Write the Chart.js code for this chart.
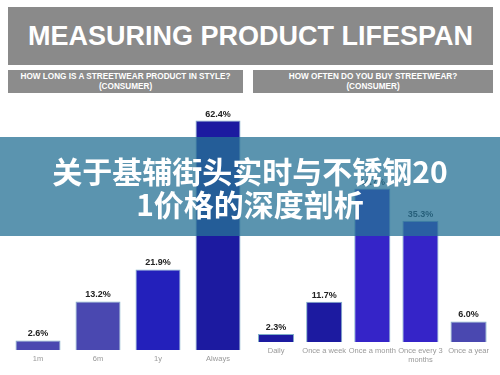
<!DOCTYPE html>
<html><head><meta charset="utf-8">
<script src="https://cdn.jsdelivr.net/npm/chart.js@4"></script>
<style>
html,body{margin:0;padding:0;background:#fff;width:500px;height:375px;overflow:hidden;font-family:"Liberation Sans",Arial,sans-serif;}
#title{position:absolute;left:8px;top:7px;width:485px;height:58px;background:#8a8a8a;color:#fff;font-weight:bold;font-size:27px;line-height:58px;text-align:center;}
.sub{position:absolute;top:70px;height:23px;background:#8c8c8c;color:#fff;font-weight:bold;font-size:8.2px;line-height:9.5px;text-align:center;display:flex;align-items:center;justify-content:center;}
#s1{left:8px;width:235px;}
#s2{left:253px;width:240px;}
#c1wrap{position:absolute;left:8px;top:100px;width:240px;height:275px;}
#c2wrap{position:absolute;left:252px;top:100px;width:241px;height:275px;}
#band{position:absolute;left:0;top:137px;width:500px;height:99px;background:rgba(40,115,150,0.76);color:#fff;font-family:"Noto Sans CJK SC",sans-serif;font-weight:bold;font-size:30px;line-height:33px;text-align:center;display:flex;align-items:center;justify-content:center;}
</style></head>
<body>
<div id="title">MEASURING PRODUCT LIFESPAN</div>
<div class="sub" id="s1">HOW LONG IS A STREETWEAR PRODUCT IN STYLE?<br>(CONSUMER)</div>
<div class="sub" id="s2">HOW OFTEN DO YOU BUY STREETWEAR?<br>(CONSUMER)</div>
<div id="c1wrap"><canvas id="c1" width="240" height="275"></canvas></div>
<div id="c2wrap"><canvas id="c2" width="241" height="275"></canvas></div>
<div id="band">关于基辅街头实时与不锈钢20<br>1价格的深度剖析</div>
<script>
const styleCategories = ["1m", "6m", "1y", "Always"];
const styleValues = [2.6, 13.2, 21.9, 62.4];
const styleColors = ["#4a48b0", "#4a48b0", "#2320bb", "#1c1aa0"];

const buyCategories = ["Daily", "Once a week", "Once a month", ["Once every 3", "months"], "Once a year"];
const buyValues = [2.3, 11.7, 44.7, 35.3, 6.0];
const buyColors = ["#1c1aa0", "#1c1aa0", "#3524c8", "#3524c8", "#4a48b0"];

const valueLabels = {
  id: "valueLabels",
  afterDatasetsDraw(chart) {
    const ctx = chart.ctx;
    const ds = chart.data.datasets[0];
    const meta = chart.getDatasetMeta(0);
    ctx.save();
    ctx.font = "bold 9px 'Liberation Sans', Arial, sans-serif";
    ctx.fillStyle = "#222";
    ctx.textAlign = "center";
    ctx.textBaseline = "bottom";
    meta.data.forEach((bar, i) => {
      ctx.fillText(ds.data[i].toFixed(1) + "%", bar.x, bar.y - 2);
    });
    ctx.restore();
  }
};

function makeChart(id, labels, values, colors, yMax, xHeight) {
  return new Chart(document.getElementById(id), {
    type: "bar",
    data: {
      labels: labels,
      datasets: [{
        data: values,
        backgroundColor: colors,
        borderColor: "#7fb0c8",
        borderWidth: 1,
        barPercentage: 0.75,
        categoryPercentage: 1.0
      }]
    },
    options: {
      responsive: false,
      animation: false,
      layout: { padding: 0 },
      plugins: { legend: { display: false }, tooltip: { enabled: false } },
      scales: {
        x: {
          grid: { display: false, drawTicks: false },
          border: { display: false },
          ticks: { color: "#999", font: { size: 7.5, family: "'Liberation Sans', Arial, sans-serif" }, padding: 4, maxRotation: 0, autoSkip: false },
          afterFit: (s) => { s.height = xHeight; }
        },
        y: { display: false, min: 0, max: yMax }
      }
    },
    plugins: [valueLabels]
  });
}

makeChart("c1", styleCategories, styleValues, styleColors, 68, 25);
makeChart("c2", buyCategories, buyValues, buyColors, 70.5, 33);
</script>
</body></html>
